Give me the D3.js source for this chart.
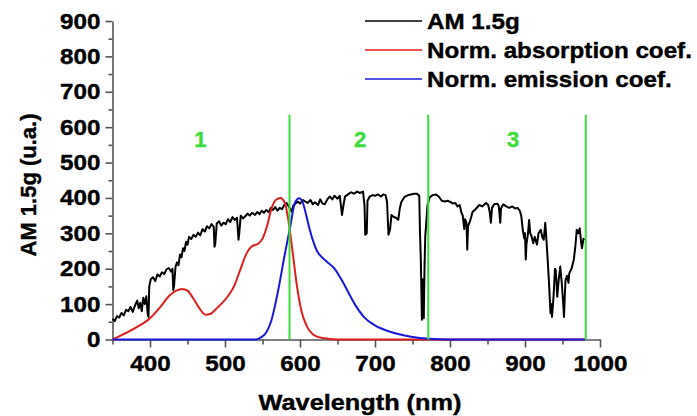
<!DOCTYPE html>
<html>
<head>
<meta charset="utf-8">
<script src="https://cdn.jsdelivr.net/npm/d3@7"></script>
<style>
  body { margin: 0; background: #fff; }
  text { font-family: "Liberation Sans", Arial, sans-serif; font-weight: bold; }
</style>
</head>
<body>
<div class="chart"></div>
<script>
// AM 1.5g spectrum
var amWl = [350,353,356,359,362,365,368,371,374,377,380,383,385,387,389,391,393,395,397,398,399,401,404,407,410,413,416,419,422,425,428,430,431,432,434,436,438,440,442,444,446,448,450,452,455,458,461,464,467,470,473,476,479,482,485,486,487,489,492,495,498,501,504,507,510,513,516,518,519,521,524,527,530,533,536,540,543,546,549,552,555,558,561,564,567,570,573,576,579,582,585,589,591,594,597,600,604,607,610,614,617,620,624,627,630,633,637,640,643,646,650,653,656,658,660,664,668,672,676,680,684,686,687,689,690,693,697,700,704,708,711,714,716,718,720,722,725,728,731,733,735,739,744,748,752,756,759,760,761,762,762.5,763,764,765,766,767,768,770,773,777,781,785,789,793,797,801,804,807,810,813,815,817,819,820,822,823,824,826,828,830,834,839,843,848,851,853,854.5,856,859,863,865,867,868,871,875,879,883,887,890,893,895,897,899,900,901,902,904,905.5,907,909,911,913,916,918,921,923,925,927,928,930,932,934,935,936,938,940,941,943,945,947,949,950,951,952,953,954,956,958,959,962,965,967,969,971,973,975,976,978,979];
var amVal = [58,52,66,62,75,68,84,80,92,78,96,110,88,104,80,118,100,122,70,64,150,170,176,165,184,178,190,185,198,202,192,200,140,150,205,218,210,240,232,258,250,276,268,290,284,296,290,302,294,312,305,320,314,326,318,262,270,328,334,322,330,326,340,332,346,338,344,282,300,350,342,348,356,350,358,352,360,354,364,358,366,360,372,366,374,364,372,368,380,386,376,362,378,384,390,384,394,390,386,394,382,388,380,396,384,382,398,404,396,406,398,406,352,380,404,410,416,412,418,414,418,380,296,300,392,404,408,406,410,404,410,408,390,296,310,352,346,344,338,370,388,402,408,410,412,412,406,300,234,120,56,110,170,60,200,290,320,380,402,408,410,404,392,390,392,388,384,386,376,380,360,350,312,340,330,254,320,330,344,360,368,380,376,386,380,360,330,372,382,384,378,330,370,382,376,372,376,370,372,364,350,310,286,300,226,270,300,338,300,290,272,290,268,300,310,290,282,330,300,234,160,74,100,64,120,200,196,121,170,206,160,130,100,64,120,168,180,160,187,200,225,260,310,300,314,270,258,285,281];

// normalised absorption coefficient
var absWl = [350,365,380,400,415,425,435,443,450,458,466,474,480,490,503,512,520,528,535,545,550,556,562,568,574,580,585,590,596,602,609,617,630,650,700,800,900,980];
var absVal = [0,15,32,60,95,122,138,143,138,115,88,70,72,90,120,150,195,240,262,272,285,320,370,395,400,385,330,250,150,80,38,15,4,0,0,0,0,0];

// normalised emission coefficient
var emWl = [350,450,542,548,554,562,571,580,587,593,599,604,609,613,618,622,633,646,655,664,673,686,700,720,748,773,800,900,980];
var emVal = [0,0,0,6,17,55,140,244,319,385,399,385,345,310,275,253,225,200,170,135,100,62,40,22,8,2,0,0,0];

// region borders and labels
var borderWl = [586, 771, 981];
var borderTop = 635;
var regionNames = ["1", "2", "3"];
var regionWl = [467, 680, 884];
var regionVal = 545;

var yTicks = [0,100,200,300,400,500,600,700,800,900];
var yMinor = [50,150,250,350,450,550,650,750,850];
var xTicks = [400,500,600,700,800,900,1000];
var xMinor = [350,450,550,650,750,850,950];

var legendNames = ["AM 1.5g", "Norm. absorption coef.", "Norm. emission coef."];
var legendColors = ["#000000", "#e01e1e", "#1818dc"];

var width = 697, height = 416;
var green = "#3cdc3c";

var svg = d3.select(".chart").append("svg")
  .attr("width", width)
  .attr("height", height);

var x = d3.scaleLinear().domain([350, 1000]).range([112.5, 600]);
var y = d3.scaleLinear().domain([0, 900]).range([339.5, 21]);

// stretch text a little wider, the original is squeezed horizontally
function stretch(sel, k) {
  sel.each(function() {
    var len = this.getComputedTextLength();
    d3.select(this)
      .attr("textLength", len * k)
      .attr("lengthAdjust", "spacingAndGlyphs");
  });
}

// axes
svg.append("g")
  .attr("transform", "translate(" + x(350) + ",0)")
  .call(d3.axisLeft(y).tickValues(yTicks).tickSize(7).tickSizeOuter(0).tickPadding(5));
svg.append("g")
  .attr("transform", "translate(" + x(350) + ",0)")
  .call(d3.axisLeft(y).tickValues(yMinor).tickSize(4).tickFormat(""))
  .select(".domain").remove();

svg.append("g")
  .attr("transform", "translate(0," + y(0) + ")")
  .call(d3.axisBottom(x).tickValues(xTicks).tickFormat(d3.format("d"))
    .tickSize(8).tickSizeOuter(0).tickPadding(8));
svg.append("g")
  .attr("transform", "translate(0," + y(0) + ")")
  .call(d3.axisBottom(x).tickValues(xMinor).tickSize(5).tickFormat(""))
  .select(".domain").remove();

svg.selectAll(".domain, .tick line")
  .attr("stroke", "#555")
  .attr("stroke-width", 1.6);

svg.selectAll(".tick text")
  .attr("fill", "#000")
  .attr("stroke", "#000")
  .attr("stroke-width", 0.4)
  .style("font-size", "22px")
  .call(stretch, 1.1);

// lines
var line = d3.line()
  .x(function(d) { return x(d[0]); })
  .y(function(d) { return y(d[1]); });

function pairs(a, b) {
  return a.map(function(d, i) { return [d, b[i]]; });
}

svg.append("path")
  .datum(pairs(amWl, amVal))
  .attr("fill", "none")
  .attr("stroke", legendColors[0])
  .attr("stroke-width", 2)
  .attr("stroke-linejoin", "round")
  .attr("d", line);

var smooth = d3.line()
  .curve(d3.curveMonotoneX)
  .x(function(d) { return x(d[0]); })
  .y(function(d) { return y(d[1]); });

svg.append("path")
  .datum(pairs(absWl, absVal))
  .attr("fill", "none")
  .attr("stroke", legendColors[1])
  .attr("stroke-width", 2)
  .attr("d", smooth);

svg.append("path")
  .datum(pairs(emWl, emVal))
  .attr("fill", "none")
  .attr("stroke", legendColors[2])
  .attr("stroke-width", 2)
  .attr("d", smooth);

// region borders
svg.selectAll(".border")
  .data(borderWl)
  .enter()
  .append("line")
  .attr("x1", function(d) { return x(d); })
  .attr("x2", function(d) { return x(d); })
  .attr("y1", y(0))
  .attr("y2", y(borderTop))
  .attr("stroke", green)
  .attr("stroke-width", 2);

svg.selectAll(".region")
  .data(regionNames)
  .enter()
  .append("text")
  .attr("x", function(d, i) { return x(regionWl[i]); })
  .attr("y", y(regionVal))
  .attr("text-anchor", "middle")
  .attr("fill", green)
  .attr("stroke", green)
  .attr("stroke-width", 0.4)
  .style("font-size", "22px")
  .text(function(d) { return d; });

// legend
var legend = svg.selectAll(".legend")
  .data(legendNames)
  .enter()
  .append("g")
  .attr("transform", function(d, i) { return "translate(365," + (21 + i * 29) + ")"; });

legend.append("line")
  .attr("x1", 0)
  .attr("x2", 57)
  .attr("stroke", function(d, i) { return legendColors[i]; })
  .attr("stroke-width", 1.6);

legend.append("text")
  .attr("x", 62)
  .attr("dy", "0.36em")
  .attr("stroke", "#000")
  .attr("stroke-width", 0.4)
  .style("font-size", "22px")
  .text(function(d) { return d; })
  .call(stretch, 1.1);

// axis titles
svg.append("text")
  .attr("x", 360)
  .attr("y", 410)
  .attr("text-anchor", "middle")
  .attr("stroke", "#000")
  .attr("stroke-width", 0.4)
  .style("font-size", "22px")
  .text("Wavelength (nm)")
  .call(stretch, 1.15);

svg.append("text")
  .attr("transform", "translate(36,185) rotate(-90)")
  .attr("text-anchor", "middle")
  .attr("stroke", "#000")
  .attr("stroke-width", 0.4)
  .style("font-size", "22px")
  .text("AM 1.5g (u.a.)");
</script>
</body>
</html>
